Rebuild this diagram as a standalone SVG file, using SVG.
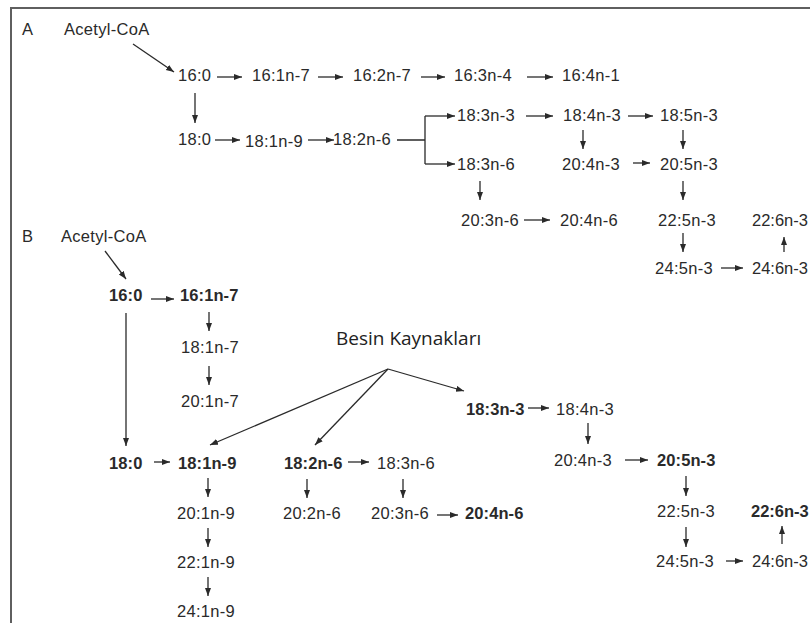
<svg xmlns="http://www.w3.org/2000/svg" width="810" height="623" viewBox="0 0 810 623">
<defs>
<marker id="ah" markerUnits="userSpaceOnUse" markerWidth="9" markerHeight="7" refX="8" refY="3" orient="auto">
<path d="M0,0 L8,3 L0,6 z" fill="#2a2a2a"/>
</marker>
<style>
text{font-family:"Liberation Sans",Arial,sans-serif;font-size:16.5px;fill:#2a2a2a;letter-spacing:0.3px}
.b{font-weight:bold;letter-spacing:0.1px}
.e{letter-spacing:0}
.t{font-family:"Open Sans","Noto Sans",sans-serif;font-size:19px;fill:#222;letter-spacing:0}
.c line,.c path{stroke:#2a2a2a;stroke-width:1.3;fill:none}
.c .a{marker-end:url(#ah)}
.frame{stroke:#5f5f5f;stroke-width:2;fill:none}
</style>
</defs>
<rect width="810" height="623" fill="#fff"/>
<path class="frame" d="M10,8 H810 M11,8 V623"/>

<g id="panelA">
<g id="labelA"><text x="22" y="35">A</text></g>
<g id="A-acetyl"><text x="64" y="35">Acetyl-CoA</text></g>
<g id="A-16-0"><text x="178" y="81">16:0</text></g>
<g id="A-16-1n7"><text x="252" y="81">16:1n-7</text></g>
<g id="A-16-2n7"><text x="353" y="81">16:2n-7</text></g>
<g id="A-16-3n4"><text x="454" y="81">16:3n-4</text></g>
<g id="A-16-4n1"><text x="562" y="81">16:4n-1</text></g>
<g id="A-18-0"><text x="178" y="145">18:0</text></g>
<g id="A-18-1n9"><text x="245" y="147">18:1n-9</text></g>
<g id="A-18-2n6"><text x="333" y="145">18:2n-6</text></g>
<g id="A-18-3n3"><text x="457" y="121">18:3n-3</text></g>
<g id="A-18-4n3"><text x="563" y="121">18:4n-3</text></g>
<g id="A-18-5n3"><text x="660" y="121">18:5n-3</text></g>
<g id="A-18-3n6"><text x="457" y="170">18:3n-6</text></g>
<g id="A-20-4n3"><text x="562" y="170">20:4n-3</text></g>
<g id="A-20-5n3"><text x="660" y="170">20:5n-3</text></g>
<g id="A-20-3n6"><text x="461" y="226">20:3n-6</text></g>
<g id="A-20-4n6"><text x="560" y="226">20:4n-6</text></g>
<g id="A-22-5n3"><text x="658" y="226">22:5n-3</text></g>
<g id="A-22-6n3"><text class="e" x="752" y="226">22:6n-3</text></g>
<g id="A-24-5n3"><text x="655" y="274">24:5n-3</text></g>
<g id="A-24-6n3"><text class="e" x="752" y="274">24:6n-3</text></g>
</g>

<g id="panelB">
<g id="labelB"><text x="22" y="242">B</text></g>
<g id="B-acetyl"><text x="61" y="242">Acetyl-CoA</text></g>
<g id="B-16-0"><text class="b" x="109" y="301">16:0</text></g>
<g id="B-16-1n7"><text class="b" x="180" y="301">16:1n-7</text></g>
<g id="B-18-1n7"><text x="181" y="353">18:1n-7</text></g>
<g id="B-20-1n7"><text x="181" y="407">20:1n-7</text></g>
<g id="B-besin"><text class="t" x="336" y="345">Besin Kaynakları</text></g>
<g id="B-18-0"><text class="b" x="109" y="469">18:0</text></g>
<g id="B-18-1n9"><text class="b" x="178" y="469">18:1n-9</text></g>
<g id="B-20-1n9"><text x="177" y="519">20:1n-9</text></g>
<g id="B-22-1n9"><text x="177" y="568">22:1n-9</text></g>
<g id="B-24-1n9"><text x="177" y="617">24:1n-9</text></g>
<g id="B-18-2n6"><text class="b" x="284" y="469">18:2n-6</text></g>
<g id="B-18-3n6"><text x="377" y="469">18:3n-6</text></g>
<g id="B-20-2n6"><text x="283" y="519">20:2n-6</text></g>
<g id="B-20-3n6"><text x="371" y="519">20:3n-6</text></g>
<g id="B-20-4n6"><text class="b" x="465" y="519">20:4n-6</text></g>
<g id="B-18-3n3"><text class="b" x="466" y="415">18:3n-3</text></g>
<g id="B-18-4n3"><text x="556" y="415">18:4n-3</text></g>
<g id="B-20-4n3"><text x="554" y="466">20:4n-3</text></g>
<g id="B-20-5n3"><text class="b" x="657" y="466">20:5n-3</text></g>
<g id="B-22-5n3"><text x="657" y="517">22:5n-3</text></g>
<g id="B-22-6n3"><text class="b" x="751" y="517" style="letter-spacing:0">22:6n-3</text></g>
<g id="B-24-5n3"><text x="656" y="567">24:5n-3</text></g>
<g id="B-24-6n3"><text class="e" x="752" y="567">24:6n-3</text></g>
</g>

<g id="connectors" class="c">
<!-- A -->
<line class="a" x1="133" y1="44" x2="174" y2="72"/>
<line class="a" x1="217" y1="77" x2="242" y2="77"/>
<line class="a" x1="318" y1="77" x2="343" y2="77"/>
<line class="a" x1="421" y1="77" x2="445" y2="77"/>
<line class="a" x1="527" y1="77" x2="553" y2="77"/>
<line class="a" x1="195" y1="93" x2="195" y2="123"/>
<line class="a" x1="215" y1="140" x2="240" y2="140"/>
<line class="a" x1="308" y1="140" x2="334" y2="140"/>
<path d="M397,140 H425 M425,116 V164"/>
<line class="a" x1="425" y1="116" x2="455" y2="116"/>
<line class="a" x1="425" y1="164" x2="455" y2="164"/>
<line class="a" x1="526" y1="116" x2="553" y2="116"/>
<line class="a" x1="628" y1="116" x2="653" y2="116"/>
<line class="a" x1="583" y1="130" x2="583" y2="149"/>
<line class="a" x1="683" y1="130" x2="683" y2="149"/>
<line class="a" x1="633" y1="163" x2="650" y2="163"/>
<line class="a" x1="480" y1="181" x2="480" y2="200"/>
<line class="a" x1="683" y1="181" x2="683" y2="200"/>
<line class="a" x1="524" y1="220" x2="550" y2="220"/>
<line class="a" x1="683" y1="233" x2="683" y2="252"/>
<line class="a" x1="721" y1="268" x2="743" y2="268"/>
<line class="a" x1="784" y1="252" x2="784" y2="237"/>
<!-- B -->
<line class="a" x1="105" y1="251" x2="126" y2="279"/>
<line class="a" x1="151" y1="299" x2="174" y2="299"/>
<line class="a" x1="209" y1="312" x2="209" y2="331"/>
<line class="a" x1="209" y1="366" x2="209" y2="385"/>
<line class="a" x1="126" y1="313" x2="126" y2="446"/>
<line class="a" x1="154" y1="462" x2="170" y2="462"/>
<line class="a" x1="388" y1="369" x2="210" y2="445"/>
<line class="a" x1="388" y1="369" x2="315" y2="445"/>
<line class="a" x1="388" y1="369" x2="464" y2="391"/>
<line class="a" x1="208" y1="478" x2="208" y2="497"/>
<line class="a" x1="208" y1="528" x2="208" y2="547"/>
<line class="a" x1="208" y1="577" x2="208" y2="596"/>
<line class="a" x1="348" y1="462" x2="369" y2="462"/>
<line class="a" x1="307" y1="479" x2="307" y2="498"/>
<line class="a" x1="403" y1="479" x2="403" y2="498"/>
<line class="a" x1="437" y1="515" x2="458" y2="515"/>
<line class="a" x1="528" y1="408" x2="549" y2="408"/>
<line class="a" x1="588" y1="423" x2="588" y2="444"/>
<line class="a" x1="625" y1="460" x2="648" y2="460"/>
<line class="a" x1="686" y1="476" x2="686" y2="496"/>
<line class="a" x1="686" y1="527" x2="686" y2="547"/>
<line class="a" x1="782" y1="544" x2="782" y2="526"/>
<line class="a" x1="726" y1="561" x2="743" y2="561"/>
</g>
</svg>
